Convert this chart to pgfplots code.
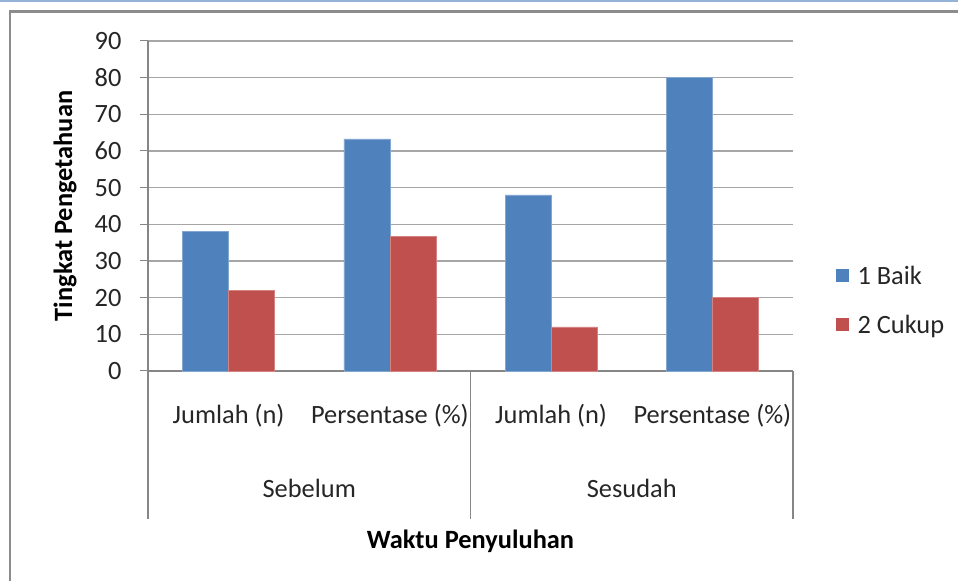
\documentclass[border=0pt]{standalone}
\usepackage{pgfplots}
\pgfplotsset{compat=1.18}
\usepackage{fontspec}
\setmainfont{Carlito}
\definecolor{baik}{HTML}{4F81BD}
\definecolor{cukup}{HTML}{C0504D}
\definecolor{gridc}{HTML}{A6A6A6}
\definecolor{axc}{HTML}{868686}
\definecolor{framec}{HTML}{8C8C8C}
\definecolor{topblue}{HTML}{95B3D7}
\newcommand{\fs}{\fontsize{26.5}{30}\selectfont}
\begin{document}
\begin{tikzpicture}[x=1bp,y=1bp]
\useasboundingbox (0,0) rectangle (958,581);
\fill[white] (0,0) rectangle (958,581);
\draw[topblue,line width=2bp] (0,580) -- (958,580);
\draw[framec,line width=2.5bp] (10,0) -- (10,569.5) -- (958,569.5);
\begin{axis}[
  at={(148bp,210bp)}, anchor=south west,
  width=645bp, height=330bp, scale only axis,
  ybar, bar width=46bp, ybar=0pt,
  xmin=-0.5, xmax=3.5,
  ymin=0, ymax=90, ytick={0,10,...,90},
  xtick={0,1,2,3},
  xticklabels={Jumlah (n),Persentase (\%),Jumlah (n),Persentase (\%)},
  x tick style={draw=none},
  xticklabel style={font=\fs, yshift=-37bp, inner sep=0pt, anchor=center, text=black!85},
  yticklabel style={font=\fs, xshift=-15bp, text=black!85},
  /pgf/number format/assume math mode=true,
  tick align=outside, major tick length=8bp,
  y tick style={axc, line width=1bp},
  ymajorgrids, grid style={gridc, line width=1.6bp},
  axis x line*=bottom, axis y line*=left,
  axis line style={axc, line width=1.2bp},
  clip=false,
  legend style={at={(1,0.214)}, anchor=west, xshift=43bp, draw=none, fill=none,
    font=\fs, row sep=25bp, inner sep=0pt, text=black!85},
  legend cell align=left,
  legend image code/.code={\fill[#1,draw=none] (0bp,-6.5bp) rectangle (13bp,6.5bp); \path (19bp,0bp);},
]
\addplot[fill=baik, draw=baik!70!white, line width=0.6bp] coordinates {(0,38) (1,63.3) (2,48) (3,80)};
\addplot[fill=cukup, draw=cukup!70!white, line width=0.6bp] coordinates {(0,22) (1,36.7) (2,12) (3,20)};
\legend{1 Baik, 2 Cukup}
\draw[axc, line width=1.2bp] (axis cs:-0.5,0) -- ([yshift=-148bp]axis cs:-0.5,0);
\draw[axc, line width=1.2bp] (axis cs:1.5,0) -- ([yshift=-148bp]axis cs:1.5,0);
\draw[axc, line width=1.2bp] (axis cs:3.5,0) -- ([yshift=-148bp]axis cs:3.5,0);
\node[font=\fs, text=black!85] at ([yshift=-117bp]axis cs:0.5,0) {Sebelum};
\node[font=\fs, text=black!85] at ([yshift=-117bp]axis cs:2.5,0) {Sesudah};
\node[font=\bfseries\fs] at ([yshift=-170bp]axis cs:1.5,0) {Waktu Penyuluhan};
\node[font=\bfseries\fs, rotate=90] at ([xshift=-83bp]axis cs:-0.5,45) {Tingkat Pengetahuan};
\end{axis}
\end{tikzpicture}
\end{document}
